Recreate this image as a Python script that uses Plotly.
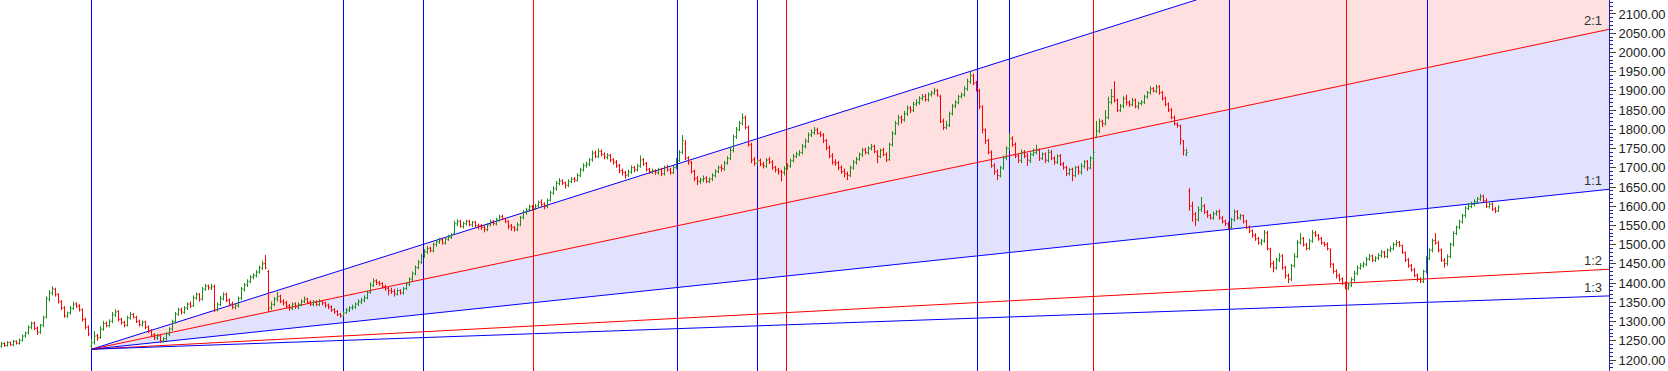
import plotly.graph_objects as go

# ---------------- data ----------------
opens = [
1236,1243,1238,1246,1239,1249,1243,1251,1263,1271,
1286,1296,1283,1273,1291,1312,1358,1374,1384,1371,
1351,1336,1314,1323,1334,1346,1341,1331,1306,1286,
1236,1246,1263,1259,1281,1296,1289,1301,1317,1326,
1306,1297,1291,1309,1319,1311,1301,1291,1299,1286,
1276,1266,1257,1263,1249,1256,1267,1281,1299,1319,
1331,1324,1336,1346,1341,1361,1371,1359,1384,1393,
1387,1391,1331,1344,1359,1371,1356,1346,1337,1341,
1361,1384,1396,1404,1416,1419,1429,1439,1451,1430,
1336,1344,1359,1366,1353,1349,1341,1334,1346,1337,
1344,1353,1359,1351,1344,1351,1344,1353,1349,1343,
1339,1331,1326,1319,1314,1323,1329,1336,1337,1346,
1351,1356,1361,1376,1394,1406,1401,1399,1391,1386,
1381,1379,1371,1381,1374,1386,1397,1411,1424,1441,
1454,1471,1481,1491,1484,1501,1507,1513,1504,1514,
1519,1530,1554,1561,1547,1554,1561,1551,1559,1549,
1549,1546,1539,1551,1561,1554,1564,1573,1567,1561,
1549,1546,1539,1551,1571,1584,1591,1599,1594,1601,
1611,1606,1599,1616,1634,1646,1659,1666,1661,1654,
1664,1671,1667,1681,1694,1706,1709,1721,1739,1729,
1743,1734,1727,1733,1721,1714,1706,1693,1687,1681,
1689,1701,1694,1704,1721,1711,1696,1689,1693,1687,
1696,1684,1701,1694,1687,1701,1719,1741,1762,1726,
1714,1691,1673,1664,1669,1673,1664,1671,1679,1691,
1701,1697,1713,1724,1746,1781,1799,1816,1831,1804,
1761,1721,1711,1719,1709,1704,1721,1714,1701,1694,
1691,1687,1699,1704,1719,1729,1736,1739,1756,1769,
1786,1791,1799,1789,1786,1771,1753,1731,1714,1713,
1701,1691,1684,1681,1699,1714,1723,1734,1746,1739,
1751,1756,1741,1729,1746,1734,1721,1761,1789,1816,
1831,1824,1841,1856,1849,1866,1869,1881,1886,1877,
1891,1894,1901,1885,1821,1804,1811,1841,1861,1869,
1886,1889,1906,1924,1939,1921,1900,1858,1798,1771,
1741,1706,1691,1679,1699,1726,1749,1776,1761,1731,
1719,1741,1731,1719,1734,1739,1746,1724,1736,1719,
1741,1724,1714,1731,1709,1701,1684,1696,1679,1701,
1689,1704,1716,1699,1724,1780,1796,1821,1814,1831,
1871,1886,1876,1849,1861,1881,1869,1864,1876,1859,
1867,1871,1884,1896,1906,1899,1911,1896,1881,1866,
1851,1831,1814,1809,1770,1735,1640,1601,1579,1566,
1591,1601,1584,1576,1569,1581,1586,1569,1561,1554,
1546,1564,1586,1569,1576,1561,1546,1536,1524,1516,
1504,1509,1531,1488,1451,1439,1461,1471,1441,1419,
1411,1446,1469,1506,1516,1499,1491,1509,1531,1524,
1516,1504,1501,1488,1449,1431,1419,1411,1399,1387,
1394,1409,1426,1439,1446,1449,1463,1471,1459,1466,
1471,1481,1469,1486,1489,1501,1506,1497,1479,1461,
1446,1434,1421,1409,1404,1431,1464,1486,1511,1504,
1486,1459,1451,1469,1501,1529,1546,1559,1576,1594,
1599,1604,1611,1619,1626,1614,1599,1606,1593,1587,
]
highs = [
1247,1246,1249,1248,1252,1251,1256,1266,1274,1290,
1300,1300,1287,1294,1315,1365,1382,1392,1388,1374,
1356,1340,1326,1340,1352,1350,1345,1334,1310,1290,
1255,1275,1268,1288,1302,1300,1306,1325,1332,1330,
1310,1302,1315,1325,1322,1315,1305,1303,1302,1290,
1280,1270,1268,1266,1260,1272,1285,1305,1325,1336,
1336,1340,1350,1352,1368,1376,1374,1390,1398,1396,
1398,1396,1350,1366,1376,1375,1360,1352,1348,1365,
1390,1400,1410,1420,1426,1434,1446,1458,1473,1434,
1352,1364,1377,1370,1358,1354,1346,1350,1350,1350,
1358,1365,1362,1355,1356,1355,1358,1356,1352,1347,
1342,1335,1330,1322,1326,1335,1340,1344,1350,1358,
1362,1368,1380,1402,1412,1410,1406,1402,1396,1390,
1388,1385,1386,1384,1390,1402,1415,1430,1446,1460,
1476,1488,1496,1494,1505,1512,1518,1516,1520,1526,
1530,1562,1566,1564,1560,1565,1565,1562,1562,1555,
1554,1550,1556,1565,1564,1570,1578,1578,1570,1563,
1554,1548,1558,1575,1590,1596,1604,1603,1606,1615,
1618,1610,1620,1640,1652,1666,1673,1670,1664,1670,
1676,1676,1686,1700,1712,1716,1725,1745,1745,1750,
1748,1740,1738,1736,1725,1720,1710,1698,1692,1695,
1706,1705,1710,1732,1725,1715,1700,1698,1696,1700,
1700,1706,1708,1700,1705,1726,1746,1785,1772,1730,
1718,1695,1678,1674,1680,1678,1675,1686,1696,1706,
1708,1718,1730,1752,1786,1806,1822,1842,1836,1810,
1765,1728,1722,1724,1715,1725,1728,1720,1705,1700,
1695,1704,1712,1724,1736,1742,1746,1762,1776,1792,
1800,1806,1804,1795,1790,1775,1758,1738,1722,1718,
1706,1698,1690,1706,1720,1728,1740,1752,1752,1756,
1762,1760,1746,1750,1752,1740,1765,1795,1822,1838,
1836,1848,1862,1860,1872,1878,1886,1892,1892,1896,
1900,1908,1905,1890,1828,1822,1846,1866,1876,1890,
1896,1912,1932,1950,1945,1926,1905,1862,1802,1775,
1745,1712,1696,1705,1732,1756,1790,1782,1766,1736,
1748,1746,1738,1740,1750,1760,1750,1740,1740,1748,
1746,1730,1735,1736,1715,1705,1700,1700,1705,1706,
1712,1720,1720,1730,1746,1822,1828,1825,1850,1885,
1905,1925,1880,1866,1886,1890,1875,1882,1880,1872,
1876,1890,1900,1912,1910,1916,1915,1900,1885,1870,
1855,1836,1818,1812,1772,1750,1647,1612,1585,1600,
1624,1606,1590,1580,1586,1590,1592,1575,1565,1560,
1570,1592,1590,1580,1578,1565,1550,1540,1530,1520,
1515,1538,1536,1492,1458,1466,1478,1475,1445,1425,
1450,1478,1512,1530,1520,1505,1515,1538,1536,1528,
1520,1508,1506,1490,1452,1436,1425,1415,1404,1400,
1415,1432,1446,1452,1456,1468,1476,1474,1470,1478,
1486,1484,1490,1496,1506,1512,1510,1500,1482,1465,
1450,1440,1425,1415,1435,1470,1490,1516,1530,1510,
1490,1465,1475,1505,1535,1550,1565,1580,1600,1608,
1612,1618,1624,1632,1630,1620,1610,1610,1598,1602,
]
lows = [
1232,1234,1235,1237,1236,1240,1240,1248,1258,1266,
1280,1278,1265,1268,1286,1308,1352,1368,1365,1347,
1330,1310,1310,1318,1330,1335,1326,1300,1280,1262,
1228,1240,1250,1255,1276,1285,1285,1296,1312,1300,
1292,1285,1287,1305,1308,1296,1287,1287,1280,1270,
1260,1252,1252,1244,1245,1250,1262,1276,1295,1315,
1318,1320,1330,1335,1338,1356,1352,1355,1380,1382,
1382,1325,1326,1340,1355,1350,1340,1332,1332,1336,
1356,1378,1390,1400,1410,1415,1424,1434,1436,1325,
1330,1340,1352,1348,1342,1335,1328,1330,1333,1332,
1340,1348,1346,1340,1340,1340,1340,1342,1336,1332,
1325,1320,1314,1310,1312,1320,1325,1330,1333,1340,
1345,1350,1358,1372,1390,1395,1393,1386,1380,1368,
1372,1365,1368,1370,1370,1382,1392,1405,1420,1436,
1450,1466,1476,1480,1480,1495,1502,1500,1500,1510,
1515,1528,1548,1544,1542,1550,1548,1546,1545,1540,
1538,1532,1535,1548,1550,1550,1560,1564,1556,1540,
1536,1534,1535,1548,1566,1578,1585,1588,1590,1596,
1598,1592,1595,1612,1630,1640,1654,1655,1646,1650,
1660,1662,1664,1676,1690,1700,1704,1716,1725,1725,
1730,1722,1722,1715,1708,1700,1686,1680,1672,1676,
1684,1688,1690,1700,1705,1690,1684,1684,1682,1682,
1678,1680,1690,1682,1684,1696,1715,1735,1720,1708,
1685,1665,1655,1658,1662,1660,1660,1665,1675,1686,
1690,1692,1708,1720,1740,1775,1795,1810,1800,1755,
1712,1705,1706,1704,1698,1700,1710,1695,1688,1682,
1665,1680,1694,1700,1714,1725,1730,1735,1750,1765,
1780,1786,1786,1780,1764,1746,1725,1708,1705,1694,
1684,1675,1668,1676,1695,1708,1718,1728,1735,1734,
1745,1738,1712,1725,1730,1715,1718,1755,1785,1810,
1815,1820,1835,1842,1845,1860,1864,1875,1872,1872,
1885,1890,1885,1816,1798,1800,1806,1836,1855,1865,
1880,1885,1900,1918,1915,1898,1852,1790,1762,1735,
1700,1682,1668,1675,1695,1720,1745,1755,1725,1712,
1712,1725,1705,1712,1730,1735,1718,1720,1712,1714,
1720,1708,1710,1705,1695,1678,1680,1665,1675,1682,
1682,1698,1692,1696,1718,1778,1790,1806,1810,1826,
1865,1870,1845,1845,1855,1862,1858,1860,1855,1852,
1862,1866,1880,1890,1896,1895,1890,1875,1860,1845,
1826,1810,1804,1760,1732,1730,1588,1560,1548,1560,
1585,1580,1570,1565,1565,1575,1565,1555,1548,1538,
1540,1560,1565,1565,1555,1540,1530,1518,1510,1500,
1498,1505,1485,1440,1428,1435,1455,1435,1412,1400,
1405,1440,1465,1500,1495,1485,1486,1505,1520,1510,
1500,1495,1485,1440,1425,1412,1404,1395,1384,1382,
1390,1404,1420,1435,1440,1444,1458,1455,1455,1460,
1466,1465,1465,1480,1485,1495,1494,1476,1455,1440,
1430,1415,1404,1400,1400,1425,1460,1480,1500,1480,
1455,1440,1445,1465,1495,1525,1540,1555,1570,1590,
1595,1600,1606,1614,1610,1595,1594,1588,1582,1585,
]
closes = [
1242,1238,1245,1240,1248,1244,1252,1262,1270,1285,
1295,1282,1272,1290,1310,1360,1375,1385,1370,1352,
1335,1315,1322,1335,1345,1340,1330,1305,1285,1268,
1245,1262,1258,1280,1295,1290,1300,1318,1325,1305,
1298,1290,1310,1318,1312,1300,1292,1298,1285,1275,
1265,1258,1262,1250,1255,1268,1280,1300,1320,1330,
1325,1335,1345,1340,1362,1370,1358,1385,1392,1388,
1390,1330,1345,1360,1370,1355,1345,1338,1342,1360,
1385,1395,1405,1415,1420,1428,1440,1450,1440,1335,
1345,1358,1365,1352,1348,1340,1335,1345,1338,1345,
1352,1358,1350,1345,1350,1345,1352,1348,1342,1338,
1330,1325,1318,1315,1322,1330,1335,1338,1345,1352,
1355,1362,1375,1395,1405,1402,1398,1392,1385,1380,
1378,1372,1380,1375,1385,1398,1410,1425,1440,1455,
1470,1482,1490,1485,1500,1508,1512,1505,1515,1520,
1525,1555,1560,1548,1555,1560,1552,1558,1550,1548,
1545,1540,1552,1560,1555,1565,1572,1568,1560,1548,
1545,1540,1552,1570,1585,1590,1598,1595,1600,1610,
1605,1600,1615,1635,1645,1660,1665,1660,1655,1665,
1670,1668,1680,1695,1705,1710,1720,1738,1730,1742,
1735,1728,1732,1720,1715,1705,1692,1688,1680,1690,
1700,1695,1705,1720,1710,1695,1690,1692,1688,1695,
1685,1700,1695,1688,1700,1720,1740,1770,1725,1715,
1690,1672,1665,1668,1672,1665,1670,1680,1690,1700,
1698,1712,1725,1745,1780,1800,1815,1830,1805,1760,
1720,1712,1718,1710,1705,1720,1715,1700,1695,1690,
1688,1698,1705,1718,1730,1735,1740,1755,1770,1785,
1792,1798,1790,1785,1770,1752,1730,1715,1712,1700,
1690,1685,1680,1700,1715,1722,1735,1745,1740,1750,
1755,1742,1730,1745,1735,1720,1760,1790,1815,1830,
1825,1840,1855,1850,1865,1870,1880,1885,1878,1890,
1895,1900,1890,1820,1805,1810,1840,1860,1870,1885,
1890,1905,1925,1940,1920,1905,1860,1800,1770,1740,
1705,1690,1680,1700,1725,1750,1775,1760,1730,1720,
1740,1730,1720,1735,1740,1745,1725,1735,1720,1740,
1725,1715,1730,1710,1700,1685,1695,1680,1700,1690,
1705,1715,1700,1725,1740,1795,1820,1815,1830,1870,
1885,1875,1850,1860,1880,1870,1865,1875,1860,1868,
1870,1885,1895,1905,1900,1910,1895,1880,1865,1850,
1830,1815,1810,1775,1745,1740,1600,1580,1565,1590,
1600,1585,1575,1570,1580,1585,1570,1560,1555,1545,
1565,1585,1570,1575,1560,1545,1535,1525,1515,1505,
1510,1530,1490,1450,1440,1460,1470,1440,1420,1410,
1445,1470,1505,1515,1500,1490,1510,1530,1525,1515,
1505,1500,1490,1450,1430,1420,1410,1400,1388,1395,
1410,1425,1440,1445,1450,1462,1470,1460,1465,1472,
1480,1470,1485,1490,1500,1505,1498,1480,1460,1445,
1435,1420,1410,1405,1430,1465,1485,1510,1505,1485,
1460,1450,1470,1500,1530,1545,1560,1575,1595,1600,
1605,1612,1618,1625,1615,1600,1605,1592,1588,1598,
]
bars = list(range(len(closes)))

# Gann fan
fan_origin_bar = 30
fan_origin_price = 1228
fan_unit = 0.8225           # price per bar for the 1:1 line
fan_ratios = [3, 2, 1, 1 / 2, 1 / 3]
fan_names = ["3:1", "2:1", "1:1", "1:2", "1:3"]
fan_colors = ["#0000ff", "#ff0000", "#0000ff", "#ff0000", "#0000ff"]
fan_labelled = ["2:1", "1:1", "1:2", "1:3"]

# vertical time lines (bar positions)
vline_bars = [30, 114, 140.67, 177.33, 225.33, 252, 261.67, 325.33, 336, 364, 409.33, 448.33, 475.33]
vline_colors = ["#0000ff", "#0000ff", "#0000ff", "#ff0000", "#0000ff", "#0000ff", "#ff0000",
                "#0000ff", "#0000ff", "#ff0000", "#0000ff", "#ff0000", "#0000ff"]

# axis
X_MIN, X_MAX = -0.5, -0.5 + 1609 / 3
Y_MIN, Y_MAX = 1171.4, 2136.4

# ---------------- figure ----------------
fig = go.Figure()


def fan_price(ratio, x):
    return fan_origin_price + ratio * fan_unit * (x - fan_origin_bar)


def tri_path(r_a, r_b):
    return (f"M {fan_origin_bar},{fan_origin_price} "
            f"L {X_MAX},{fan_price(r_a, X_MAX)} "
            f"L {X_MAX},{fan_price(r_b, X_MAX)} Z")


# shaded zones (below the bars)
fig.add_shape(type="path", path=tri_path(3, 2), xref="x", yref="y",
              fillcolor="rgb(255,224,224)", line=dict(width=0), layer="below")
fig.add_shape(type="path", path=tri_path(2, 1), xref="x", yref="y",
              fillcolor="rgb(226,226,255)", line=dict(width=0), layer="below")

# vertical lines (same subplot layer, drawn after the fills)
for vb, vc in zip(vline_bars, vline_colors):
    fig.add_shape(type="line", x0=vb, x1=vb, y0=Y_MIN, y1=Y_MAX, xref="x", yref="y",
                  line=dict(color=vc, width=1), layer="below")

# fan lines
for r, n, c in zip(fan_ratios, fan_names, fan_colors):
    fig.add_shape(type="line", x0=fan_origin_bar, y0=fan_origin_price,
                  x1=X_MAX, y1=fan_price(r, X_MAX), xref="x", yref="y",
                  line=dict(color=c, width=1), layer="below")

# OHLC bars
fig.add_trace(go.Ohlc(x=bars, open=opens, high=highs, low=lows, close=closes,
                      increasing=dict(line=dict(color="#1c8c1c", width=1)),
                      decreasing=dict(line=dict(color="#ff0000", width=1)),
                      tickwidth=0.4, showlegend=False, hoverinfo="skip"))

# labels
for r, n in zip(fan_ratios, fan_names):
    if n in fan_labelled:
        fig.add_annotation(x=1, xref="paper", y=fan_price(r, X_MAX), yref="y",
                           text=n, showarrow=False, xanchor="right", yanchor="bottom",
                           xshift=-5, yshift=-1,
                           font=dict(family="Liberation Sans, Arial", size=13, color="#333333"))

fig.update_layout(
    width=1668, height=371,
    margin=dict(l=0, r=59, t=0, b=0),
    paper_bgcolor="white", plot_bgcolor="white",
    showlegend=False,
    xaxis=dict(range=[X_MIN, X_MAX], visible=False, rangeslider=dict(visible=False),
               showgrid=False, zeroline=False),
    yaxis=dict(range=[Y_MIN, Y_MAX], side="right", showgrid=False, zeroline=False,
               showline=True, linecolor="#24249a", linewidth=1,
               tickmode="linear", tick0=1200, dtick=50, tickformat=".2f",
               ticks="outside", ticklen=6, tickcolor="#444444",
               tickfont=dict(family="Liberation Sans, Arial", size=13, color="#222222"),
               minor=dict(ticks="outside", ticklen=3, tickmode="linear", tick0=1200, dtick=10,
                          tickcolor="#24249a", showgrid=False)),
)

fig.write_html("out.html")
